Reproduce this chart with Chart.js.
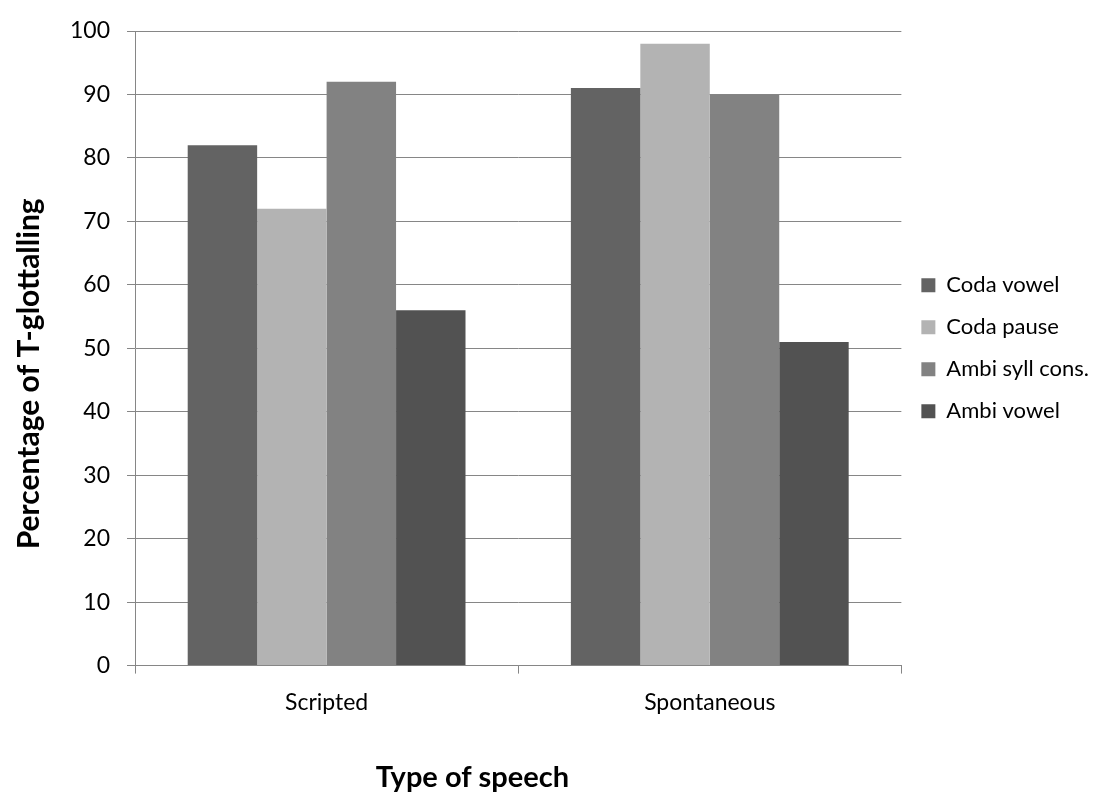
<!DOCTYPE html>
<html>
<head>
<meta charset="utf-8">
<script src="https://cdn.jsdelivr.net/npm/chart.js@4/dist/chart.umd.min.js"></script>
<style>
  html, body { margin: 0; padding: 0; background: #fff; }
  #wrap { width: 1101px; height: 795px; }
</style>
</head>
<body>
<div id="wrap"><canvas id="grafico"></canvas></div>
<script>
var categorias = ['Scripted', 'Spontaneous'];
var codaVowel = [82, 91];
var codaPause = [72, 98];
var ambiSyllCons = [92, 90];
var ambiVowel = [56, 51];

var fonte = "Lato, 'Open Sans', sans-serif";
var cinza = '#868686';
// the titles sit off-centre in the original, trailing nbsp nudges them
var nb = '\u00a0';

var ctx = document.getElementById('grafico').getContext('2d');
var grafico = new Chart(ctx, {
type: 'bar',
data: {
    labels: categorias,
    datasets: [
        { label: 'Coda vowel', data: codaVowel, backgroundColor: '#636363' },
        { label: 'Coda pause', data: codaPause, backgroundColor: '#b3b3b3' },
        { label: 'Ambi syll cons.', data: ambiSyllCons, backgroundColor: '#828282' },
        { label: 'Ambi vowel', data: ambiVowel, backgroundColor: '#525252' }
    ]
},
options: {
    responsive: true,
    maintainAspectRatio: false,
    animation: false,
    datasets: {
        bar: { categoryPercentage: 0.725, barPercentage: 1.0, borderWidth: 0 }
    },
    layout: { padding: { top: 31, right: 2, bottom: 0, left: 6 } },
    scales: {
        y: {
            min: 0,
            max: 100,
            ticks: { stepSize: 10, color: '#000', font: { family: fonte, size: 23 }, padding: 17 },
            grid: { color: cinza, tickLength: 8, lineWidth: 1 },
            border: { color: cinza },
            title: {
                display: true,
                text: 'Percentage of T-glottalling' + nb.repeat(7),
                color: '#000',
                font: { family: fonte, size: 30, weight: 'bold' },
                padding: { top: 5, bottom: 6 }
            }
        },
        x: {
            ticks: { color: '#000', font: { family: fonte, size: 23 }, padding: 15 },
            grid: { drawOnChartArea: false, color: cinza, tickLength: 8, offset: true },
            border: { color: cinza },
            title: {
                display: true,
                text: 'Type of speech' + nb.repeat(13),
                color: '#000',
                font: { family: fonte, size: 29, weight: 'bold' },
                padding: { top: 29, bottom: 0 }
            }
        }
    },
    plugins: {
        legend: {
            position: 'right',
            fullSize: false,
            labels: {
                color: '#000',
                font: { family: fonte, size: 22 },
                boxWidth: 14,
                boxHeight: 14,
                padding: 20
            }
        },
        tooltip: { enabled: false }
    }
}
});
</script>
</body>
</html>
